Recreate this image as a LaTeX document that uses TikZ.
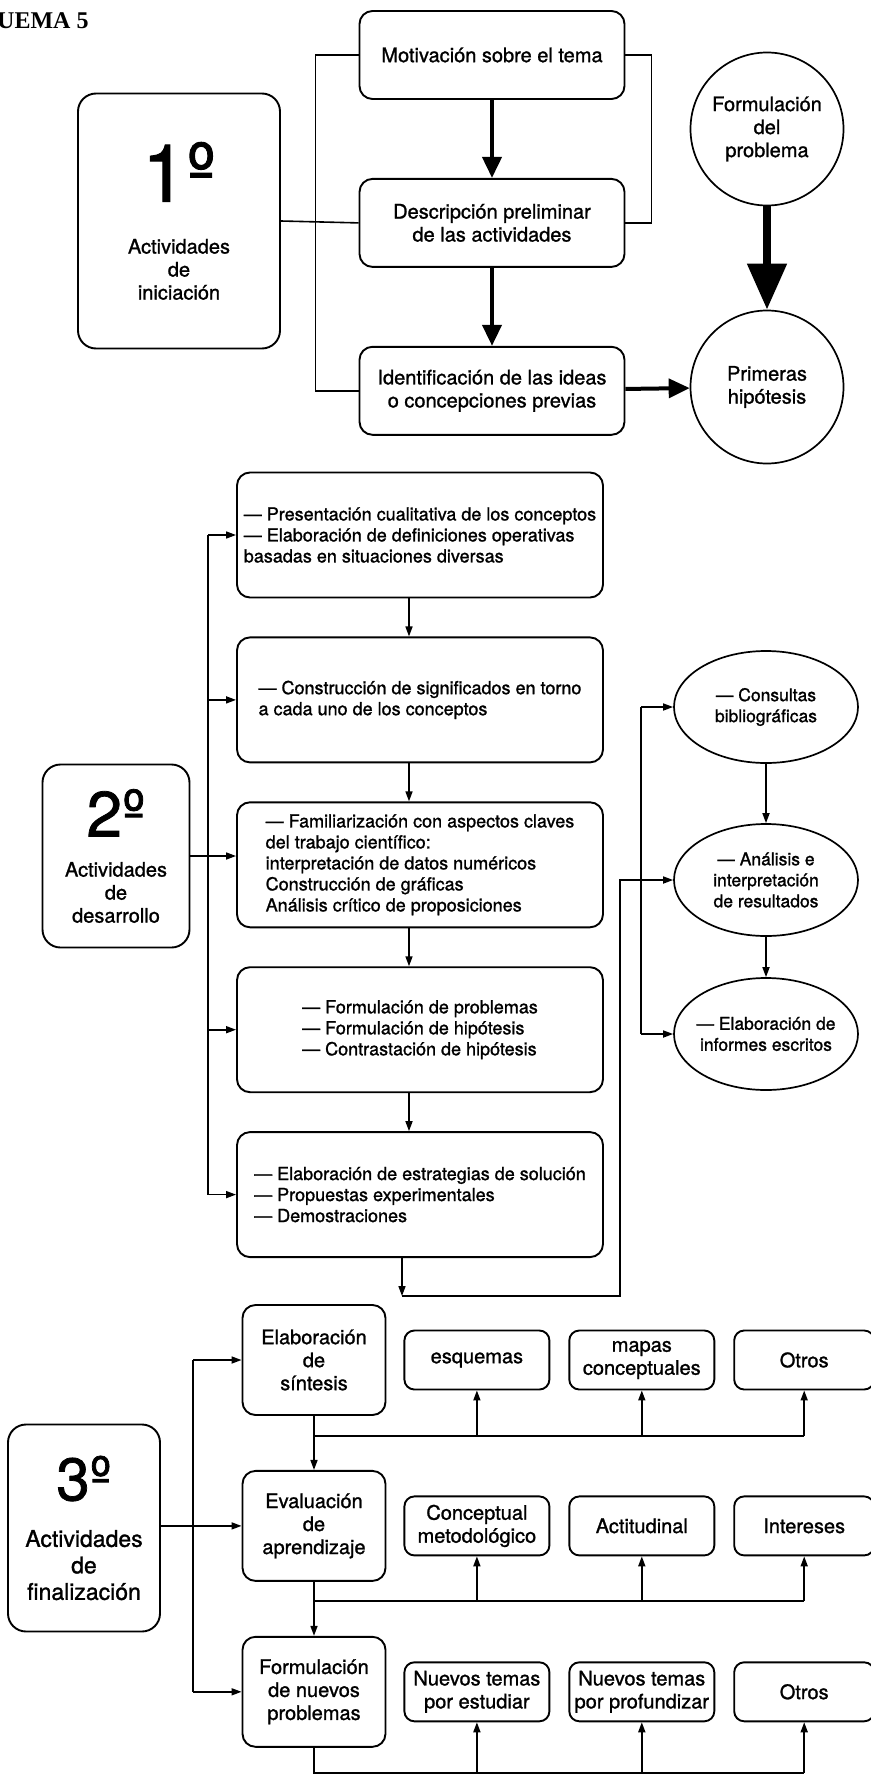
\documentclass[tikz,border=0pt]{standalone}
\usepackage{fontspec}
\setmainfont{TeX Gyre Heros}[FakeBold=1.2]
\newfontfamily\headfont{Liberation Serif}
\usetikzlibrary{arrows.meta,positioning,shapes.geometric}

\begin{document}
\begin{tikzpicture}[
    x=1pt, y=-1pt,
    node distance=38pt,
    box/.style={draw, line width=1.9pt, rounded corners=13pt, align=center, inner sep=2pt, font=\fontsize{20}{23}\selectfont},
    stage/.style={box, rounded corners=18pt},
    topbox/.style={box, minimum width=265pt, minimum height=88pt},
    listbox/.style={box, align=left, minimum width=366pt, minimum height=125pt, font=\fontsize{18}{21}\selectfont},
    stepbox/.style={box, minimum width=143pt, minimum height=110pt},
    kindbox/.style={box, rounded corners=10pt, minimum width=145pt, minimum height=59pt},
    disc/.style={draw, circle, line width=1.7pt, align=center, inner sep=0pt, minimum size=153pt, font=\fontsize{20}{23}\selectfont},
    oval/.style={draw, ellipse, line width=1.7pt, align=center, inner xsep=-16pt, inner ysep=0pt, minimum width=184pt, minimum height=112pt, font=\fontsize{17.5}{21}\selectfont},
    link/.style={line width=1.6pt},
    arr/.style={link, -{Triangle[length=10pt, width=7pt]}},
    boldarr/.style={-{Triangle[length=21pt, width=19pt]}, line width=4pt},
    heavyarr/.style={-{Triangle[length=46pt, width=38pt]}, line width=8pt}
]
\useasboundingbox (0,0) rectangle (870,1774);

\node[anchor=west, inner sep=0pt, font=\headfont\bfseries\fontsize{24}{24}\selectfont] (titulo) at (-3,21) {UEMA 5};

% 1o: iniciacion
\node[topbox] (motiv) at (492,55) {Motivación sobre el tema};
\node[topbox, below=78pt of motiv] (descr) {Descripción preliminar\\de las actividades};
\node[topbox, below=78pt of descr] (ident) {Identificación de las ideas\\o concepciones previas};
\node[stage, minimum width=202pt, minimum height=255pt] (inicio) at (179,221) {{\fontsize{80}{80}\selectfont 1º}\\[29pt]Actividades\\de\\iniciación};
\node[disc] (formul) at (767,129) {Formulación\\del\\problema};
\node[disc] (hipot) at (767,387) {Primeras\\hipótesis};

\draw[link] (motiv.west) -- ++(-43,0) |- (ident.west);
\draw[link] (inicio.east) -- (descr.west);
\draw[link] (motiv.east) -- ++(26,0) |- (descr.east);
\draw[boldarr] (motiv) -- (descr);
\draw[boldarr] (descr) -- (ident);
\draw[boldarr] (ident) -- (hipot);
\draw[heavyarr] (formul) -- (hipot);

% 2o: desarrollo
\node[listbox] (pres) at (420,535) {— Presentación cualitativa de los conceptos\\— Elaboración de definiciones operativas\\basadas en situaciones diversas};
\node[listbox, below=of pres] (signif) {— Construcción de significados en torno\\a cada uno de los conceptos};
\node[listbox, below=of signif] (famil) {— Familiarización con aspectos claves\\del trabajo científico:\\interpretación de datos numéricos\\Construcción de gráficas\\Análisis crítico de proposiciones};
\node[listbox, below=of famil] (hipo) {— Formulación de problemas\\— Formulación de hipótesis\\— Contrastación de hipótesis};
\node[listbox, below=of hipo] (estrat) {— Elaboración de estrategias de solución\\— Propuestas experimentales\\— Demostraciones};
\node[stage, minimum width=147pt, minimum height=183pt] (desarr) at (116,856) {{\fontsize{64}{64}\selectfont 2º}\\[17pt]Actividades\\de\\desarrollo};

\node[oval] (consul) at (766,707) {— Consultas\\bibliográficas};
\node[oval] (anali) at (766,880) {— Análisis e\\interpretación\\de resultados};
\node[oval] (inform) at (766,1034) {— Elaboración de\\informes escritos};

\coordinate (busB) at (208,0);
\draw[link] (busB |- pres) -- (busB |- estrat);
\foreach \n in {pres, signif, hipo, estrat}
    \draw[arr] (busB |- \n) -- (\n);
\draw[arr] (desarr.east) -- (desarr.east -| famil.west);
\foreach \a/\b in {pres/signif, signif/famil, famil/hipo, hipo/estrat}
    \draw[arr] ([xshift=-11pt]\a.south) -- ([xshift=-11pt]\b.north);

\coordinate (busR) at (641,0);
\draw[arr] (busR |- consul) -- (consul);
\draw[link] (busR |- consul) -- (busR |- inform);
\draw[arr] (busR |- inform) -- (inform);
\draw[arr] (consul) -- (anali);
\draw[arr] (anali) -- (inform);

\path ([xshift=-18pt]estrat.south) ++(0,38) coordinate (retorno);
\draw[arr] ([xshift=-18pt]estrat.south) -- (retorno);
\draw[arr] (retorno) -| ([xshift=-53pt]anali.west) -- (anali);

% 3o: finalizacion
\node[stepbox] (sintesis) at (314,1360) {Elaboración\\de\\síntesis};
\node[stepbox, below=54pt of sintesis] (evalua) {Evaluación\\de\\aprendizaje};
\node[stepbox, below=54pt of evalua] (nuevos) {Formulación\\de nuevos\\problemas};
\node[stage, minimum width=152pt, minimum height=207pt, font=\fontsize{23}{26.5}\selectfont] (final) at (84,1528) {{\fontsize{60}{60}\selectfont 3º}\\[20pt]Actividades\\de\\finalización};

\node[kindbox, right=17pt of sintesis] (esquem) {esquemas};
\node[kindbox, right=18pt of esquem] (mapas) {mapas\\conceptuales};
\node[kindbox, right=18pt of mapas, minimum width=140pt] (otrosA) {Otros};
\node[kindbox, right=17pt of evalua] (concep) {Conceptual\\metodológico};
\node[kindbox, right=18pt of concep] (actit) {Actitudinal};
\node[kindbox, right=18pt of actit, minimum width=140pt] (interes) {Intereses};
\node[kindbox, right=17pt of nuevos] (estud) {Nuevos temas\\por estudiar};
\node[kindbox, right=18pt of estud] (profund) {Nuevos temas\\por profundizar};
\node[kindbox, right=18pt of profund, minimum width=140pt] (otrosC) {Otros};

\coordinate (busC) at (193,0);
\draw[link] (busC |- sintesis) -- (busC |- nuevos);
\draw[arr] (busC |- sintesis) -- (sintesis);
\draw[arr] (busC |- nuevos) -- (nuevos);
\draw[arr] (final.east |- evalua) -- (evalua);
\draw[arr] (sintesis) -- (evalua);
\draw[arr] (evalua) -- (nuevos);

\path (sintesis.south) ++(0,20) coordinate (jointA);
\path (evalua.south) ++(0,19) coordinate (jointB);
\path (nuevos.south) ++(0,25) coordinate (jointC);
\draw[link] (jointA) -- (jointA -| otrosA);
\draw[link] (jointB) -- (jointB -| interes);
\draw[link] (nuevos) -- (jointC) -- (jointC -| otrosC);
\foreach \n in {esquem, mapas, otrosA}
    \draw[arr] (jointA -| \n) -- (\n);
\foreach \n in {concep, actit, interes}
    \draw[arr] (jointB -| \n) -- (\n);
\foreach \n in {estud, profund, otrosC}
    \draw[arr] (jointC -| \n) -- (\n);
\end{tikzpicture}
\end{document}
